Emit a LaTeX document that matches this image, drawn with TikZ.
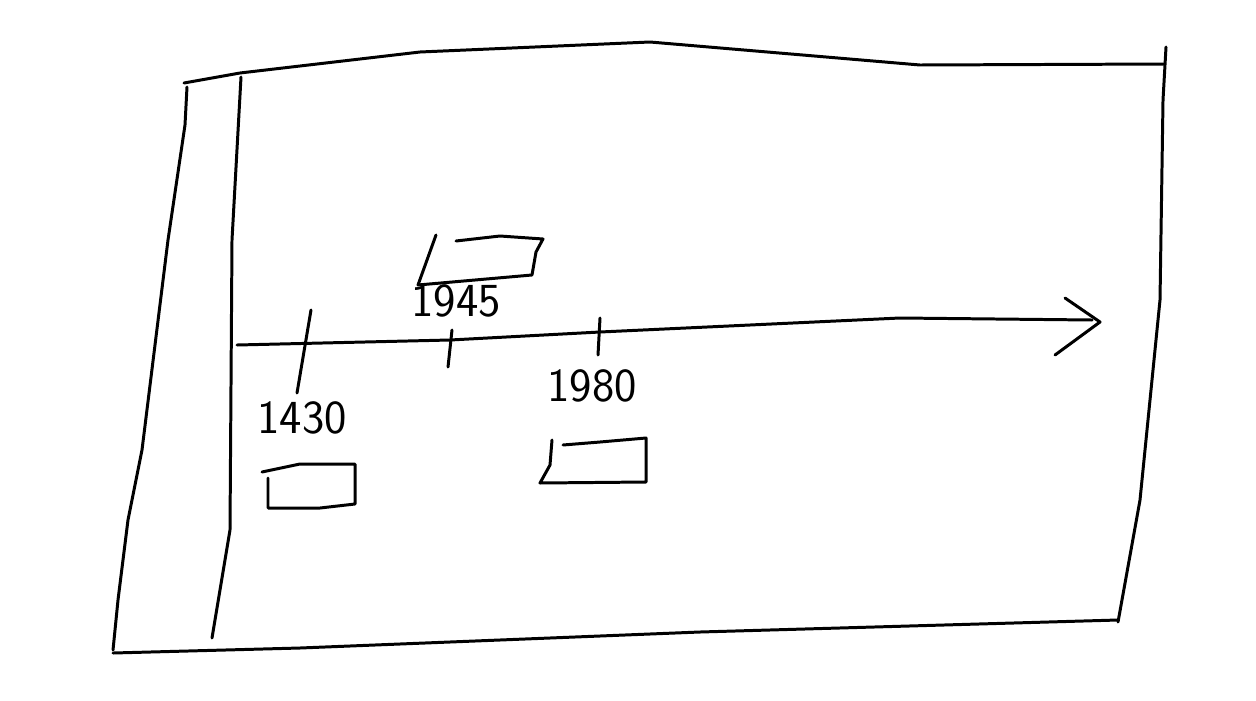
\documentclass[tikz,border=0pt]{standalone}
\usepackage{tikz}
\usetikzlibrary{calc,positioning,arrows}

\begin{document}
\begin{tikzpicture}[x=0.02cm, y=-0.02cm,
        pen/.style={line width=1.7pt, line cap=round, line join=round},
        year/.style={font=\sffamily\fontsize{27}{30}\selectfont, inner sep=0pt}]

        \useasboundingbox (0, 0) rectangle (1256, 700);

        %%frame
        \draw[pen](184, 83) to (240, 73) to (420, 52) to (650, 42) to (920, 65) to (1164, 64);
        \draw[pen](1166, 47) to (1163, 100) to (1160, 300) to (1140, 500) to (1118, 622);
        \draw[pen](113, 653) to (300, 648) to (700, 632) to (1118, 620);
        \draw[pen](187, 87) to (185, 125) to (168, 240) to (142, 450) to (128, 520) to (118, 600) to (113, 650);
        %%margin
        \draw[pen](241, 77) to (232, 240) to (230, 530) to (212, 638);

        %%axis
        \draw[pen](237, 345) to (450, 340) to (600, 332) to (900, 318) to (1092, 320);
            \draw[pen](1065, 298) to (1100, 322) to (1055, 355);

        %%1430
        \draw[pen](311, 310) to (297, 393);
            \node[year] (y1430) at (302, 418){1430};
            \draw[pen](262, 472) to (300, 464) to (355, 464) to (355, 504) to (320, 508) to (268, 508) to (268, 478);
        %%1945
        \draw[pen](452, 330) to (448, 367);
            \node[year] (y1945) at (456, 301){1945};
            \draw[pen](436, 235) to (418, 285) to (532, 275) to (536, 252) to (543, 239) to (500, 236) to (456, 241);
        %%1980
        \draw[pen](600, 318) to (598, 355);
            \node[year] (y1980) at (592, 386){1980};
            \draw[pen](552, 440) to (550, 465) to (540, 483) to (646, 482) to (646, 438) to (600, 442) to (563, 445);

\end{tikzpicture}
\end{document}
